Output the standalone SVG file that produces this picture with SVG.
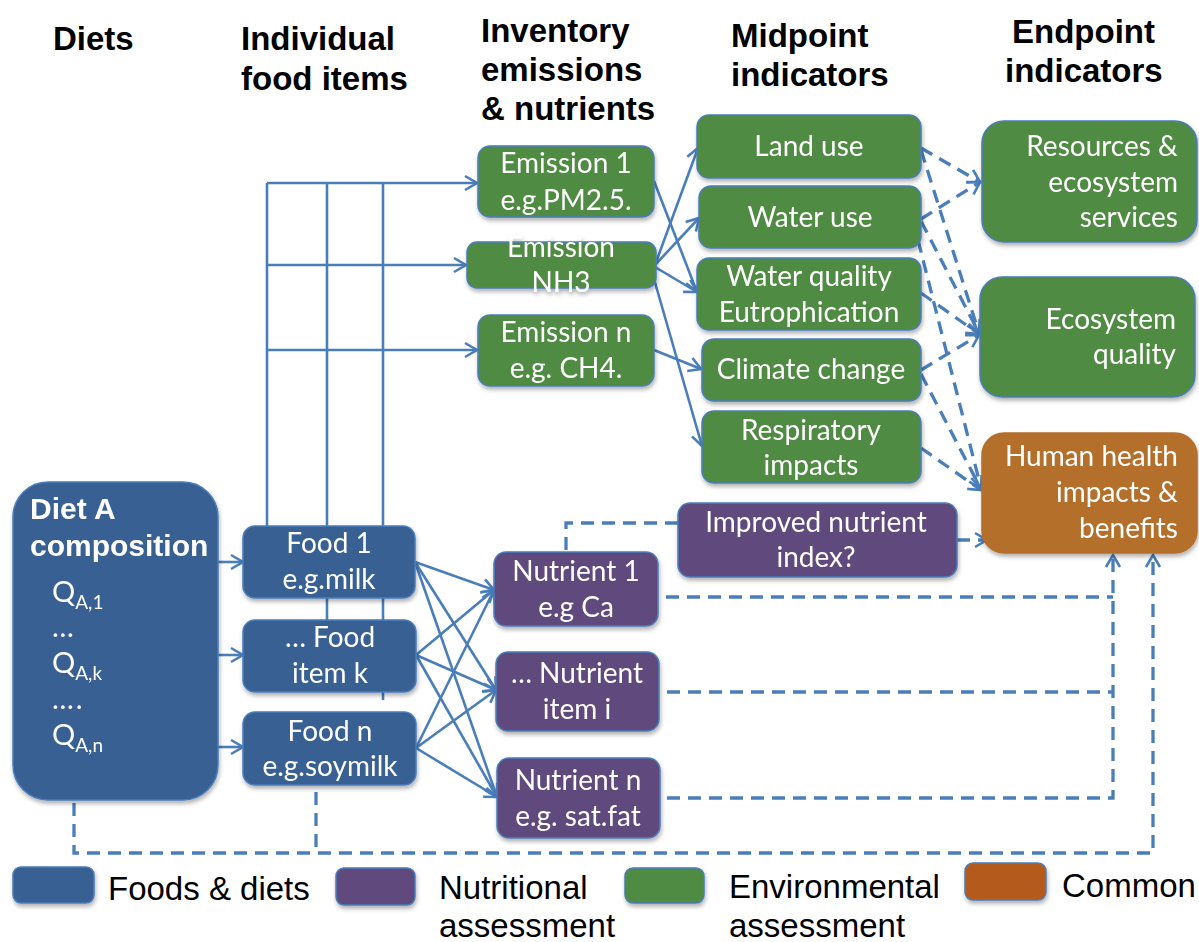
<svg xmlns="http://www.w3.org/2000/svg" width="1199" height="942" viewBox="0 0 1199 942">
<style>
.hdr{font-family:"Liberation Sans",Arial,sans-serif;font-weight:bold;font-size:33px;fill:#000}
.leg{font-family:"Liberation Sans",Arial,sans-serif;font-size:33px;fill:#000}
.bt{font-family:Lato,"Open Sans",sans-serif;font-size:28px;fill:#fff;text-anchor:middle}
.br{font-family:Lato,"Open Sans",sans-serif;font-size:28px;fill:#fff;text-anchor:end}
.dt{font-family:"Liberation Sans",Arial,sans-serif;font-weight:bold;font-size:30px;fill:#fff}
.qt{font-family:Lato,"Open Sans",sans-serif;font-size:29px;fill:#fff}
.blue{fill:#386193;stroke:#4A7EBB;stroke-width:1.5}
.purp{fill:#604A7B;stroke:#4A7EBB;stroke-width:1.5}
.grn{fill:#4F8B42;stroke:#4A7EBB;stroke-width:1.5}
.org{fill:#B46F2B;stroke:#B46F2B;stroke-width:1.5}
.sol{fill:none;stroke:#4A7EBB;stroke-width:2.6}
.dsh{fill:none;stroke:#4A7EBB;stroke-width:3.3;stroke-dasharray:13 8}
</style>
<defs>
<filter id="sh" x="-10%" y="-10%" width="125%" height="135%">
<feDropShadow dx="1" dy="3" stdDeviation="2" flood-color="#000" flood-opacity="0.3"/>
</filter>
<marker id="ah" viewBox="-2 -9 16 18" refX="12" refY="0" markerWidth="16" markerHeight="18" markerUnits="userSpaceOnUse" orient="auto" overflow="visible">
<path d="M0,-7 L12,0 L0,7" fill="none" stroke="#4A7EBB" stroke-width="2.6" stroke-dasharray="none"/>
</marker>
</defs>

<g id="headers">
<text class="hdr" x="53" y="50">Diets</text>
<text class="hdr" x="241" y="50">Individual</text>
<text class="hdr" x="241" y="90">food items</text>
<text class="hdr" x="481" y="42">Inventory</text>
<text class="hdr" x="481" y="81">emissions</text>
<text class="hdr" x="481" y="120">&amp; nutrients</text>
<text class="hdr" x="731" y="47">Midpoint</text>
<text class="hdr" x="731" y="86">indicators</text>
<text class="hdr" x="1012" y="43">Endpoint</text>
<text class="hdr" x="1005" y="82">indicators</text>
</g>

<g id="connectors">
<path class="sol" d="M267,183 V526"/>
<path class="sol" d="M327,183 V620"/>
<path class="sol" d="M383,183 V700"/>
<path class="sol" d="M267,183 H477" marker-end="url(#ah)"/>
<path class="sol" d="M267,265 H466" marker-end="url(#ah)"/>
<path class="sol" d="M267,350 H477" marker-end="url(#ah)"/>
<path class="sol" d="M654,181 L697,292" marker-end="url(#ah)"/>
<path class="sol" d="M655,265 L698,148" marker-end="url(#ah)"/>
<path class="sol" d="M655,265 L699,218" marker-end="url(#ah)"/>
<path class="sol" d="M655,267 L697,292" marker-end="url(#ah)"/>
<path class="sol" d="M652,272 L702,446" marker-end="url(#ah)"/>
<path class="sol" d="M654,350 L701,369" marker-end="url(#ah)"/>
<path class="sol" d="M218,562 H243" marker-end="url(#ah)"/>
<path class="sol" d="M218,655 H243" marker-end="url(#ah)"/>
<path class="sol" d="M218,747 H243" marker-end="url(#ah)"/>
<path class="sol" d="M415,562 L494,590" marker-end="url(#ah)"/>
<path class="sol" d="M415,562 L496,690" marker-end="url(#ah)"/>
<path class="sol" d="M415,562 L497,797" marker-end="url(#ah)"/>
<path class="sol" d="M416,655 L494,590" marker-end="url(#ah)"/>
<path class="sol" d="M416,655 L496,690" marker-end="url(#ah)"/>
<path class="sol" d="M416,655 L497,797" marker-end="url(#ah)"/>
<path class="sol" d="M416,748 L494,590" marker-end="url(#ah)"/>
<path class="sol" d="M416,748 L496,690" marker-end="url(#ah)"/>
<path class="sol" d="M416,748 L497,797" marker-end="url(#ah)"/>
<path class="dsh" d="M921,148 L980,182" marker-end="url(#ah)"/>
<path class="dsh" d="M921,219 L980,182" marker-end="url(#ah)"/>
<path class="dsh" d="M921,150 L979,333" marker-end="url(#ah)"/>
<path class="dsh" d="M921,221 L979,333" marker-end="url(#ah)"/>
<path class="dsh" d="M921,293 L979,334" marker-end="url(#ah)"/>
<path class="dsh" d="M921,370 L979,335" marker-end="url(#ah)"/>
<path class="dsh" d="M918,240 L981,488" marker-end="url(#ah)"/>
<path class="dsh" d="M921,374 L981,489" marker-end="url(#ah)"/>
<path class="dsh" d="M921,448 L981,490" marker-end="url(#ah)"/>
<path class="dsh" d="M678,523 H566 V553"/>
<path class="dsh" d="M957,540 H987" marker-end="url(#ah)"/>
<path class="dsh" d="M666,597 H1113"/>
<path class="dsh" d="M667,692 H1113"/>
<path class="dsh" d="M667,798 H1113 V555" marker-end="url(#ah)"/>
<path class="dsh" d="M74,803 V853 H1153 V555" marker-end="url(#ah)"/>
<path class="dsh" d="M316,792 V853"/>
</g>

<g id="emission1" filter="url(#sh)">
<rect class="grn" x="478" y="146" width="176" height="71" rx="12"/>
<text class="bt" x="566" y="173">Emission 1</text>
<text class="bt" x="566" y="210">e.g.PM2.5.</text>
</g>
<g id="emissionNH3" filter="url(#sh)">
<rect class="grn" x="467" y="242" width="189" height="46" rx="10"/>
<text class="bt" x="561" y="257">Emission</text>
<text class="bt" x="561" y="292">NH3</text>
</g>
<g id="emissionN" filter="url(#sh)">
<rect class="grn" x="478" y="315" width="176" height="71" rx="12"/>
<text class="bt" x="566" y="342">Emission n</text>
<text class="bt" x="566" y="378">e.g. CH4.</text>
</g>

<g id="landuse" filter="url(#sh)">
<rect class="grn" x="697" y="115" width="224" height="63" rx="12"/>
<text class="bt" x="809" y="156">Land use</text>
</g>
<g id="wateruse" filter="url(#sh)">
<rect class="grn" x="699" y="186" width="222" height="62" rx="12"/>
<text class="bt" x="810" y="227">Water use</text>
</g>
<g id="waterquality" filter="url(#sh)">
<rect class="grn" x="697" y="258" width="224" height="72" rx="12"/>
<text class="bt" x="809" y="286">Water quality</text>
<text class="bt" x="809" y="322">Eutrophication</text>
</g>
<g id="climate" filter="url(#sh)">
<rect class="grn" x="702" y="339" width="219" height="62" rx="12"/>
<text class="bt" x="811" y="379">Climate change</text>
</g>
<g id="respiratory" filter="url(#sh)">
<rect class="grn" x="702" y="411" width="219" height="72" rx="12"/>
<text class="bt" x="811" y="440">Respiratory</text>
<text class="bt" x="811" y="475">impacts</text>
</g>

<g id="resources" filter="url(#sh)">
<rect class="grn" x="982" y="121" width="215" height="121" rx="22"/>
<text class="br" x="1178" y="156">Resources &amp;</text>
<text class="br" x="1178" y="192">ecosystem</text>
<text class="br" x="1178" y="227">services</text>
</g>
<g id="ecoquality" filter="url(#sh)">
<rect class="grn" x="980" y="277" width="215" height="120" rx="22"/>
<text class="br" x="1176" y="329">Ecosystem</text>
<text class="br" x="1176" y="364">quality</text>
</g>
<g id="humanhealth" filter="url(#sh)">
<rect class="org" x="982" y="433" width="215" height="120" rx="22"/>
<text class="br" x="1178" y="466">Human health</text>
<text class="br" x="1178" y="502">impacts &amp;</text>
<text class="br" x="1178" y="538">benefits</text>
</g>

<g id="improved" filter="url(#sh)">
<rect class="purp" x="678" y="503" width="279" height="74" rx="12"/>
<text class="bt" x="816" y="532">Improved nutrient</text>
<text class="bt" x="816" y="567">index?</text>
</g>

<g id="diet" filter="url(#sh)">
<rect class="blue" x="13" y="482" width="205" height="318" rx="35"/>
<text class="dt" x="30" y="519">Diet A</text>
<text class="dt" x="30" y="556">composition</text>
<text class="qt" x="52" y="602">Q<tspan font-size="19" dy="7">A,1</tspan></text>
<text class="qt" x="52" y="637" letter-spacing="2">…</text>
<text class="qt" x="52" y="673">Q<tspan font-size="19" dy="7">A,k</tspan></text>
<text class="qt" x="52" y="709" letter-spacing="2">….</text>
<text class="qt" x="52" y="745">Q<tspan font-size="19" dy="7">A,n</tspan></text>
</g>

<g id="food1" filter="url(#sh)">
<rect class="blue" x="243" y="526" width="172" height="72" rx="12"/>
<text class="bt" x="329" y="553">Food 1</text>
<text class="bt" x="329" y="589">e.g.milk</text>
</g>
<g id="foodk" filter="url(#sh)">
<rect class="blue" x="243" y="620" width="173" height="72" rx="12"/>
<text class="bt" x="330" y="647">… Food</text>
<text class="bt" x="330" y="683">item k</text>
</g>
<g id="foodn" filter="url(#sh)">
<rect class="blue" x="243" y="712" width="173" height="73" rx="12"/>
<text class="bt" x="330" y="741">Food n</text>
<text class="bt" x="330" y="776">e.g.soymilk</text>
</g>

<g id="nutrient1" filter="url(#sh)">
<rect class="purp" x="494" y="552" width="164" height="74" rx="12"/>
<text class="bt" x="576" y="581">Nutrient 1</text>
<text class="bt" x="576" y="617">e.g Ca</text>
</g>
<g id="nutrienti" filter="url(#sh)">
<rect class="purp" x="496" y="652" width="163" height="79" rx="12"/>
<text class="bt" x="577" y="683">… Nutrient</text>
<text class="bt" x="577" y="719">item i</text>
</g>
<g id="nutrientn" filter="url(#sh)">
<rect class="purp" x="497" y="758" width="163" height="80" rx="12"/>
<text class="bt" x="578" y="790">Nutrient n</text>
<text class="bt" x="578" y="826">e.g. sat.fat</text>
</g>

<g id="legend">
<rect x="13" y="867" width="81" height="36" rx="8" fill="#386193" stroke="#4A7EBB" stroke-width="1.5" filter="url(#sh)"/>
<text class="leg" x="108" y="900">Foods &amp; diets</text>
<rect x="336" y="868" width="79" height="37" rx="8" fill="#604A7B" stroke="#4A7EBB" stroke-width="1.5" filter="url(#sh)"/>
<text class="leg" x="439" y="899">Nutritional</text>
<text class="leg" x="439" y="937">assessment</text>
<rect x="625" y="868" width="79" height="35" rx="8" fill="#4F8B42" stroke="#4A7EBB" stroke-width="1.5" filter="url(#sh)"/>
<text class="leg" x="729" y="898">Environmental</text>
<text class="leg" x="729" y="937">assessment</text>
<rect x="965" y="863" width="81" height="37" rx="8" fill="#B35A1B" stroke="#4A7EBB" stroke-width="1.5" filter="url(#sh)"/>
<text class="leg" x="1062" y="897">Common</text>
</g>
</svg>
